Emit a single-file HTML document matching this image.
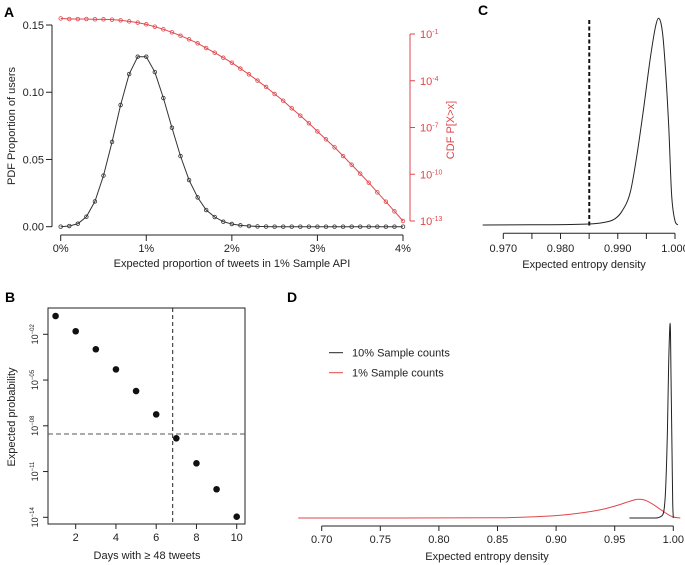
<!DOCTYPE html>
<html><head><meta charset="utf-8">
<style>
html,body{margin:0;padding:0;background:#fff;}
svg{display:block;font-family:"Liberation Sans",Arial,sans-serif;}
</style></head>
<body>
<svg id="fig" width="685" height="565" viewBox="0 0 685 565" xmlns="http://www.w3.org/2000/svg">
<text x="4" y="17" font-size="14" font-weight="bold">A</text>
<text x="5" y="302" font-size="14" font-weight="bold">B</text>
<text x="478" y="15" font-size="14" font-weight="bold">C</text>
<text x="287" y="302" font-size="14" font-weight="bold">D</text>
<g id="A"></g><g id="B"></g><g id="C"></g><g id="D"></g>
</svg>
<script>
// ---- Panel A data ----
const aX = [0,0.1,0.2,0.3,0.4,0.5,0.6,0.7,0.8,0.9,1.0,1.1,1.2,1.3,1.4,1.5,1.6,1.7,1.8,1.9,2.0,2.1,2.2,2.3,2.4,2.5,2.6,2.7,2.8,2.9,3.0,3.1,3.2,3.3,3.4,3.5,3.6,3.7,3.8,3.9,4.0];
const aPdf = [0,0.0005,0.0022,0.0074,0.0188,0.038,0.063,0.0905,0.1135,0.1264,0.1264,0.115,0.0957,0.0736,0.0525,0.0347,0.0218,0.0124,0.0072,0.0037,0.002,0.001,0.0005,0.0002,0.0001,0,0,0,0,0,0,0,0,0,0,0,0,0,0,0,0];
const aCdfLog = [0,-0.04,-0.04,-0.04,-0.06,-0.06,-0.08,-0.12,-0.19,-0.27,-0.38,-0.53,-0.70,-0.89,-1.11,-1.34,-1.60,-1.90,-2.20,-2.52,-2.84,-3.22,-3.59,-3.99,-4.40,-4.85,-5.28,-5.77,-6.24,-6.73,-7.25,-7.76,-8.27,-8.83,-9.39,-9.96,-10.54,-11.16,-11.76,-12.38,-13.0];
const aYTicks = [0,0.05,0.10,0.15];
const aYLabels = ["0.00","0.05","0.10","0.15"];
const aXTicks = [0,1,2,3,4];
const aXLabels = ["0%","1%","2%","3%","4%"];
const aRTicks = [-1,-4,-7,-10,-13];
// ---- Panel B data ----
const bDays = [1,2,3,4,5,6,7,8,9,10];
const bLogProb = [-0.80,-1.80,-2.98,-4.30,-5.72,-7.25,-8.82,-10.46,-12.16,-13.96];
const bXTicks = [2,4,6,8,10];
const bYTicks = [-2,-5,-8,-11,-14];
const bYLabels = ["02","05","08","11","14"];
const bVLine = 6.82;
const bHLine = -8.54;
// ---- Panel C data ----
const cX = [0.9664,0.975,0.985,0.9875,0.9895,0.9907,0.9922,0.9933,0.9945,0.9957,0.9966,0.9971,0.9976,0.998,0.9989,0.9994,1.0,1.0005];
const cDen = [0,0.001,0.005,0.012,0.03,0.065,0.16,0.33,0.56,0.81,0.96,1.0,0.97,0.88,0.48,0.15,0.02,0];
const cTicks = [0.970,0.975,0.980,0.985,0.990,0.995,1.000];
const cLabels = ["0.970","","0.980","","0.990","","1.000"];
const cVLine = 0.98502;
// ---- Panel D data ----
const dBlackX = [0.9626,0.985,0.99,0.993,0.995,0.996,0.997,0.9972,0.9976,0.998,0.999,0.9995,1.0];
const dBlackY = [0,0,0.01,0.1,0.45,0.78,0.98,1.0,0.95,0.75,0.3,0.08,0];
const dRedX = [0.68,0.85,0.88,0.90,0.92,0.94,0.955,0.965,0.97,0.975,0.98,0.99,0.995,1.0,1.006];
const dRedY = [0,0.001,0.006,0.012,0.025,0.045,0.07,0.09,0.096,0.093,0.08,0.04,0.02,0.005,0];
const dTicks = [0.70,0.75,0.80,0.85,0.90,0.95,1.00];
const dLabels = ["0.70","0.75","0.80","0.85","0.90","0.95","1.00"];

const NS="http://www.w3.org/2000/svg";
function mk(parent,tag,attrs,txt){const e=document.createElementNS(NS,tag);for(const k in attrs)e.setAttribute(k,attrs[k]);if(txt!==undefined)e.textContent=txt;parent.appendChild(e);return e;}
function lin(d0,d1,r0,r1){return v=>r0+(v-d0)/(d1-d0)*(r1-r0);}
function pathD(xs,ys,fx,fy){return xs.map((v,i)=>(i?'L':'M')+fx(v).toFixed(2)+','+fy(ys[i]).toFixed(2)).join('');}
// monotone cubic (Fritsch-Carlson) smooth path in pixel space
function smoothD(xs,ys,fx,fy){
 const P=xs.map((v,i)=>[fx(v),fy(ys[i])]);const n=P.length;
 const d=[],m=[];
 for(let i=0;i<n-1;i++)d.push((P[i+1][1]-P[i][1])/(P[i+1][0]-P[i][0]));
 m[0]=d[0];m[n-1]=d[n-2];
 for(let i=1;i<n-1;i++){m[i]=(d[i-1]*d[i]<=0)?0:(d[i-1]+d[i])/2;}
 for(let i=0;i<n-1;i++){if(d[i]===0){m[i]=0;m[i+1]=0;}else{const a=m[i]/d[i],b=m[i+1]/d[i],s=a*a+b*b;if(s>9){const t=3/Math.sqrt(s);m[i]=t*a*d[i];m[i+1]=t*b*d[i];}}}
 let s='M'+P[0][0].toFixed(2)+','+P[0][1].toFixed(2);
 for(let i=0;i<n-1;i++){const h=(P[i+1][0]-P[i][0])/3;
  s+='C'+(P[i][0]+h).toFixed(2)+','+(P[i][1]+m[i]*h).toFixed(2)+' '+(P[i+1][0]-h).toFixed(2)+','+(P[i+1][1]-m[i+1]*h).toFixed(2)+' '+P[i+1][0].toFixed(2)+','+P[i+1][1].toFixed(2);}
 return s;}
const RED="#e0474c";

// ===== Panel A =====
(function(){
const g=document.getElementById('A');
const x=lin(0,4,60.7,403), y=lin(0,0.15,226.7,25), yr=lin(-1,-13,34,221);
let e;
e=mk(g,'line',{x1:52,y1:25,x2:52,y2:226.7,stroke:'#222','stroke-width':1});

aYTicks.forEach((t,i)=>{mk(g,'line',{x1:46,y1:y(t),x2:52,y2:y(t),stroke:'#222'});
 e=mk(g,'text',{x:44,y:y(t)+4,'font-size':11,'text-anchor':'end',fill:'#222'},aYLabels[i]);
 });
e=mk(g,'line',{x1:60.7,y1:235,x2:403,y2:235,stroke:'#222'});

aXTicks.forEach((t,i)=>{mk(g,'line',{x1:x(t),y1:235,x2:x(t),y2:241,stroke:'#222'});
 e=mk(g,'text',{x:x(t),y:252,'font-size':11,'text-anchor':'middle',fill:'#222'},aXLabels[i]);
 });
e=mk(g,'text',{x:232,y:267,'font-size':11,'text-anchor':'middle',fill:'#222'},'Expected proportion of tweets in 1% Sample API');

e=mk(g,'text',{transform:'translate(15,126) rotate(-90)','font-size':11,'text-anchor':'middle',fill:'#222'},'PDF Proportion of users');

e=mk(g,'line',{x1:410,y1:34,x2:410,y2:221,stroke:RED});

aRTicks.forEach(t=>{mk(g,'line',{x1:410,y1:yr(t),x2:415,y2:yr(t),stroke:RED});
 e=mk(g,'text',{x:420,y:yr(t)+4,'font-size':11,fill:RED},'10');
 mk(e,'tspan',{dy:-4,'font-size':7},String(t));
 });
e=mk(g,'text',{transform:'translate(454,130) rotate(-90)','font-size':11,'text-anchor':'middle',fill:RED},'CDF P[X>x]');

e=mk(g,'path',{d:pathD(aX,aCdfLog,x,yr),fill:'none',stroke:RED,'stroke-width':1});

aX.forEach((v,i)=>{e=mk(g,'circle',{cx:x(v),cy:yr(aCdfLog[i]),r:1.8,fill:'none',stroke:RED,'stroke-width':0.8});
 });
e=mk(g,'path',{d:pathD(aX,aPdf,x,y),fill:'none',stroke:'#333','stroke-width':1});

aX.forEach((v,i)=>{e=mk(g,'circle',{cx:x(v),cy:y(aPdf[i]),r:1.8,fill:'none',stroke:'#333','stroke-width':0.8});
 });
})();

// ===== Panel B =====
(function(){
const g=document.getElementById('B');
const x=lin(2,10,75.7,236.7), y=lin(-2,-14,334.3,517.3);
let e;
e=mk(g,'rect',{x:48,y:308,width:197,height:216,fill:'none',stroke:'#222'});

bXTicks.forEach(t=>{mk(g,'line',{x1:x(t),y1:524,x2:x(t),y2:529,stroke:'#222'});
 e=mk(g,'text',{x:x(t),y:541,'font-size':11,'text-anchor':'middle',fill:'#222'},String(t));
 });
bYTicks.forEach((t,i)=>{mk(g,'line',{x1:43,y1:y(t),x2:48,y2:y(t),stroke:'#222'});
 e=mk(g,'text',{transform:`translate(38,${y(t)}) rotate(-90)`,'font-size':9,'text-anchor':'middle',fill:'#222'},'10');
 mk(e,'tspan',{dy:-4,'font-size':6},'\u2212'+bYLabels[i]);
 });
e=mk(g,'text',{x:147,y:559,'font-size':11,'text-anchor':'middle',fill:'#222'},'Days with \u2265 48 tweets');

e=mk(g,'text',{transform:'translate(15,417) rotate(-90)','font-size':11,'text-anchor':'middle',fill:'#222'},'Expected probability');

e=mk(g,'line',{x1:x(bVLine),y1:308,x2:x(bVLine),y2:524,stroke:'#222','stroke-dasharray':'4,3'});

e=mk(g,'line',{x1:48,y1:y(bHLine),x2:245,y2:y(bHLine),stroke:'#555','stroke-dasharray':'5,3'});

bDays.forEach((d,i)=>{e=mk(g,'circle',{cx:x(d),cy:y(bLogProb[i]),r:3.3,fill:'#111'});
 });
})();

// ===== Panel C =====
(function(){
const g=document.getElementById('C');
const x=lin(0.970,1.000,503.3,675), y=lin(0,1,225,18.3);
let e;
e=mk(g,'line',{x1:503.3,y1:233.3,x2:675,y2:233.3,stroke:'#222'});

cTicks.forEach((t,i)=>{mk(g,'line',{x1:x(t),y1:233.3,x2:x(t),y2:239,stroke:'#222'});
 if(cLabels[i]){e=mk(g,'text',{x:x(t),y:252,'font-size':11,'text-anchor':'middle',fill:'#222'},cLabels[i]);
 }});
e=mk(g,'text',{x:584,y:268,'font-size':11,'text-anchor':'middle',fill:'#222'},'Expected entropy density');

e=mk(g,'line',{x1:x(cVLine),y1:20,x2:x(cVLine),y2:226,stroke:'#111','stroke-width':2,'stroke-dasharray':'4,2.5'});

e=mk(g,'path',{d:smoothD(cX,cDen,x,y),fill:'none',stroke:'#222','stroke-width':1});

})();

// ===== Panel D =====
(function(){
const g=document.getElementById('D');
const x=lin(0.70,1.00,321.7,673.3), y=lin(0,1,518,323.3);
let e;
e=mk(g,'line',{x1:321.7,y1:526,x2:673.3,y2:526,stroke:'#222'});

dTicks.forEach((t,i)=>{mk(g,'line',{x1:x(t),y1:526,x2:x(t),y2:531,stroke:'#222'});
 e=mk(g,'text',{x:x(t),y:543,'font-size':11,'text-anchor':'middle',fill:'#222'},dLabels[i]);
 });
e=mk(g,'text',{x:487,y:560,'font-size':11,'text-anchor':'middle',fill:'#222'},'Expected entropy density');

e=mk(g,'path',{d:smoothD(dRedX,dRedY,x,y),fill:'none',stroke:RED,'stroke-width':1});

e=mk(g,'path',{d:smoothD(dBlackX,dBlackY,x,y),fill:'none',stroke:'#222','stroke-width':1});

mk(g,'line',{x1:329,y1:352.7,x2:343,y2:352.7,stroke:'#222'});
e=mk(g,'text',{x:352,y:356.7,'font-size':11,fill:'#222'},'10% Sample counts');

mk(g,'line',{x1:329,y1:372.7,x2:343,y2:372.7,stroke:RED});
e=mk(g,'text',{x:352,y:376.7,'font-size':11,fill:'#222'},'1% Sample counts');

})();
</script>
</body></html>
